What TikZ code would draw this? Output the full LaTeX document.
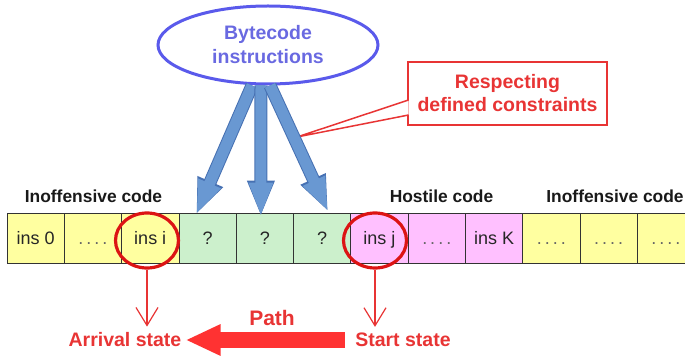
\documentclass[tikz,border=0pt]{standalone}
\usepackage{fontspec}
\setmainfont{Liberation Sans}
\usetikzlibrary{shapes.geometric, arrows.meta}
\definecolor{codeyellow}{RGB}{255,255,160}
\definecolor{codegreen}{RGB}{204,240,204}
\definecolor{codepink}{RGB}{255,192,255}
\definecolor{ellblue}{RGB}{90,90,235}
\definecolor{elltext}{RGB}{105,105,225}
\definecolor{arrowblue}{RGB}{105,152,210}
\definecolor{arrowedge}{RGB}{70,112,178}
\definecolor{ringred}{RGB}{220,20,20}
\definecolor{labelred}{RGB}{232,52,52}
\definecolor{pathred}{RGB}{255,50,50}
\newcommand{\gapdots}{{\color{black!60}.\hspace{3pt}.\hspace{3pt}.\hspace{3pt}.}}

\begin{document}
\begin{tikzpicture}[x=1pt, y=1pt,
    cell/.style={draw=black!80, line width=0.8pt, minimum width=57.3pt, minimum height=50pt,
      inner sep=0pt, text height=14pt, text depth=0pt, text=black!85,
      font=\fontsize{18}{20}\selectfont},
    ring/.style={draw=ringred, line width=3.2pt, ellipse, minimum width=63pt, minimum height=55pt},
    codelabel/.style={text=black!90, font=\bfseries\fontsize{17.4}{20}\selectfont},
    statelabel/.style={text=labelred, inner sep=0pt, font=\bfseries\fontsize{19.5}{22}\selectfont},
    fatarrow/.style={line width=11pt, draw=arrowblue, -{Triangle[length=34pt, width=22pt]},
      preaction={draw=arrowedge, line width=13pt, -{Triangle[length=36pt, width=25pt]}}},
    statearrow/.style={draw=labelred, line width=1.2pt, -{Straight Barb[length=18pt, width=22pt]}},
    patharrow/.style={draw=pathred, line width=16pt, -{Triangle[length=35pt, width=29pt]}}]

    % Page frame
    \useasboundingbox (0,0) rectangle (685,361);
    \clip (0,0) rectangle (685,361);

    % Source of the instructions
    \node[ellipse, draw=ellblue, line width=3pt, minimum width=220pt, minimum height=78pt,
      text=elltext, align=center, font=\bfseries\fontsize{19.5}{24}\selectfont] (BC) at (268,316)
      {Bytecode\\instructions};

    % Constraint callout
    \coordinate (CT) at (297,224);
    \node[draw=labelred, line width=1.8pt, minimum width=199pt, minimum height=63pt, inner sep=0pt,
      text=labelred, align=center, font=\bfseries\fontsize{19.5}{23}\selectfont] (RC) at (507.5,267.5)
      {Respecting\\defined constraints};
    \filldraw[draw=labelred, fill=white, line width=1.5pt]
      ([xshift=1.5pt,yshift=-6.5pt]RC.west) -- (CT) -- ([xshift=1.5pt,yshift=-21.5pt]RC.west);

    % Code labels
    \node[codelabel] (L1) at (93.5,165) {Inoffensive code};
    \node[codelabel] (L2) at (441.5,165) {Hostile code};
    \node[codelabel] (L3) at (615,165) {Inoffensive code};

    % Instruction cells
    \node[cell, fill=codeyellow] (C1) at (35.65,123) {ins 0};
    \node[cell, fill=codeyellow] (C2) at (92.95,123) {\gapdots};
    \node[cell, fill=codeyellow] (C3) at (150.25,123) {ins i};
    \node[cell, fill=codegreen] (C4) at (207.55,123) {?};
    \node[cell, fill=codegreen] (C5) at (264.85,123) {?};
    \node[cell, fill=codegreen] (C6) at (322.15,123) {?};
    \node[cell, fill=codepink] (C7) at (379.45,123) {ins j};
    \node[cell, fill=codepink] (C8) at (436.75,123) {\gapdots};
    \node[cell, fill=codepink] (C9) at (494.05,123) {ins K};
    \node[cell, fill=codeyellow] (C10) at (551.35,123) {\gapdots};
    \node[cell, fill=codeyellow] (C11) at (608.65,123) {\gapdots};
    \node[cell, fill=codeyellow] (C12) at (665.95,123) {\gapdots};

    % Rings on the two states
    \node[ring] (R1) at (147,120.5) {};
    \node[ring] (R2) at (375,120.5) {};

    % Injection arrows
    \draw[fatarrow] ([xshift=-16pt]BC.south) -- ([xshift=-11.5pt,yshift=-2pt]C4.north);
    \draw[fatarrow] ([xshift=-7pt]BC.south) -- ([xshift=-4pt,yshift=-4pt]C5.north);
    \draw[fatarrow] ([xshift=2pt]BC.south) -- ([xshift=6pt,yshift=1pt]C6.north);

    % States and path
    \node[statelabel] (AS) at (125,21) {Arrival state};
    \node[statelabel] (SS) at (403,21) {Start state};
    \draw[statearrow] (R1.south) -- ([yshift=6pt]R1.south |- AS.north);
    \draw[statearrow] (R2.south) -- ([yshift=6pt]R2.south |- SS.north);
    \draw[patharrow, shorten <=10pt] (SS.west) -- ([xshift=4pt]AS.east);
    \node[text=labelred, font=\bfseries\fontsize{21}{24}\selectfont] (PL) at (272,43) {Path};
\end{tikzpicture}
\end{document}
